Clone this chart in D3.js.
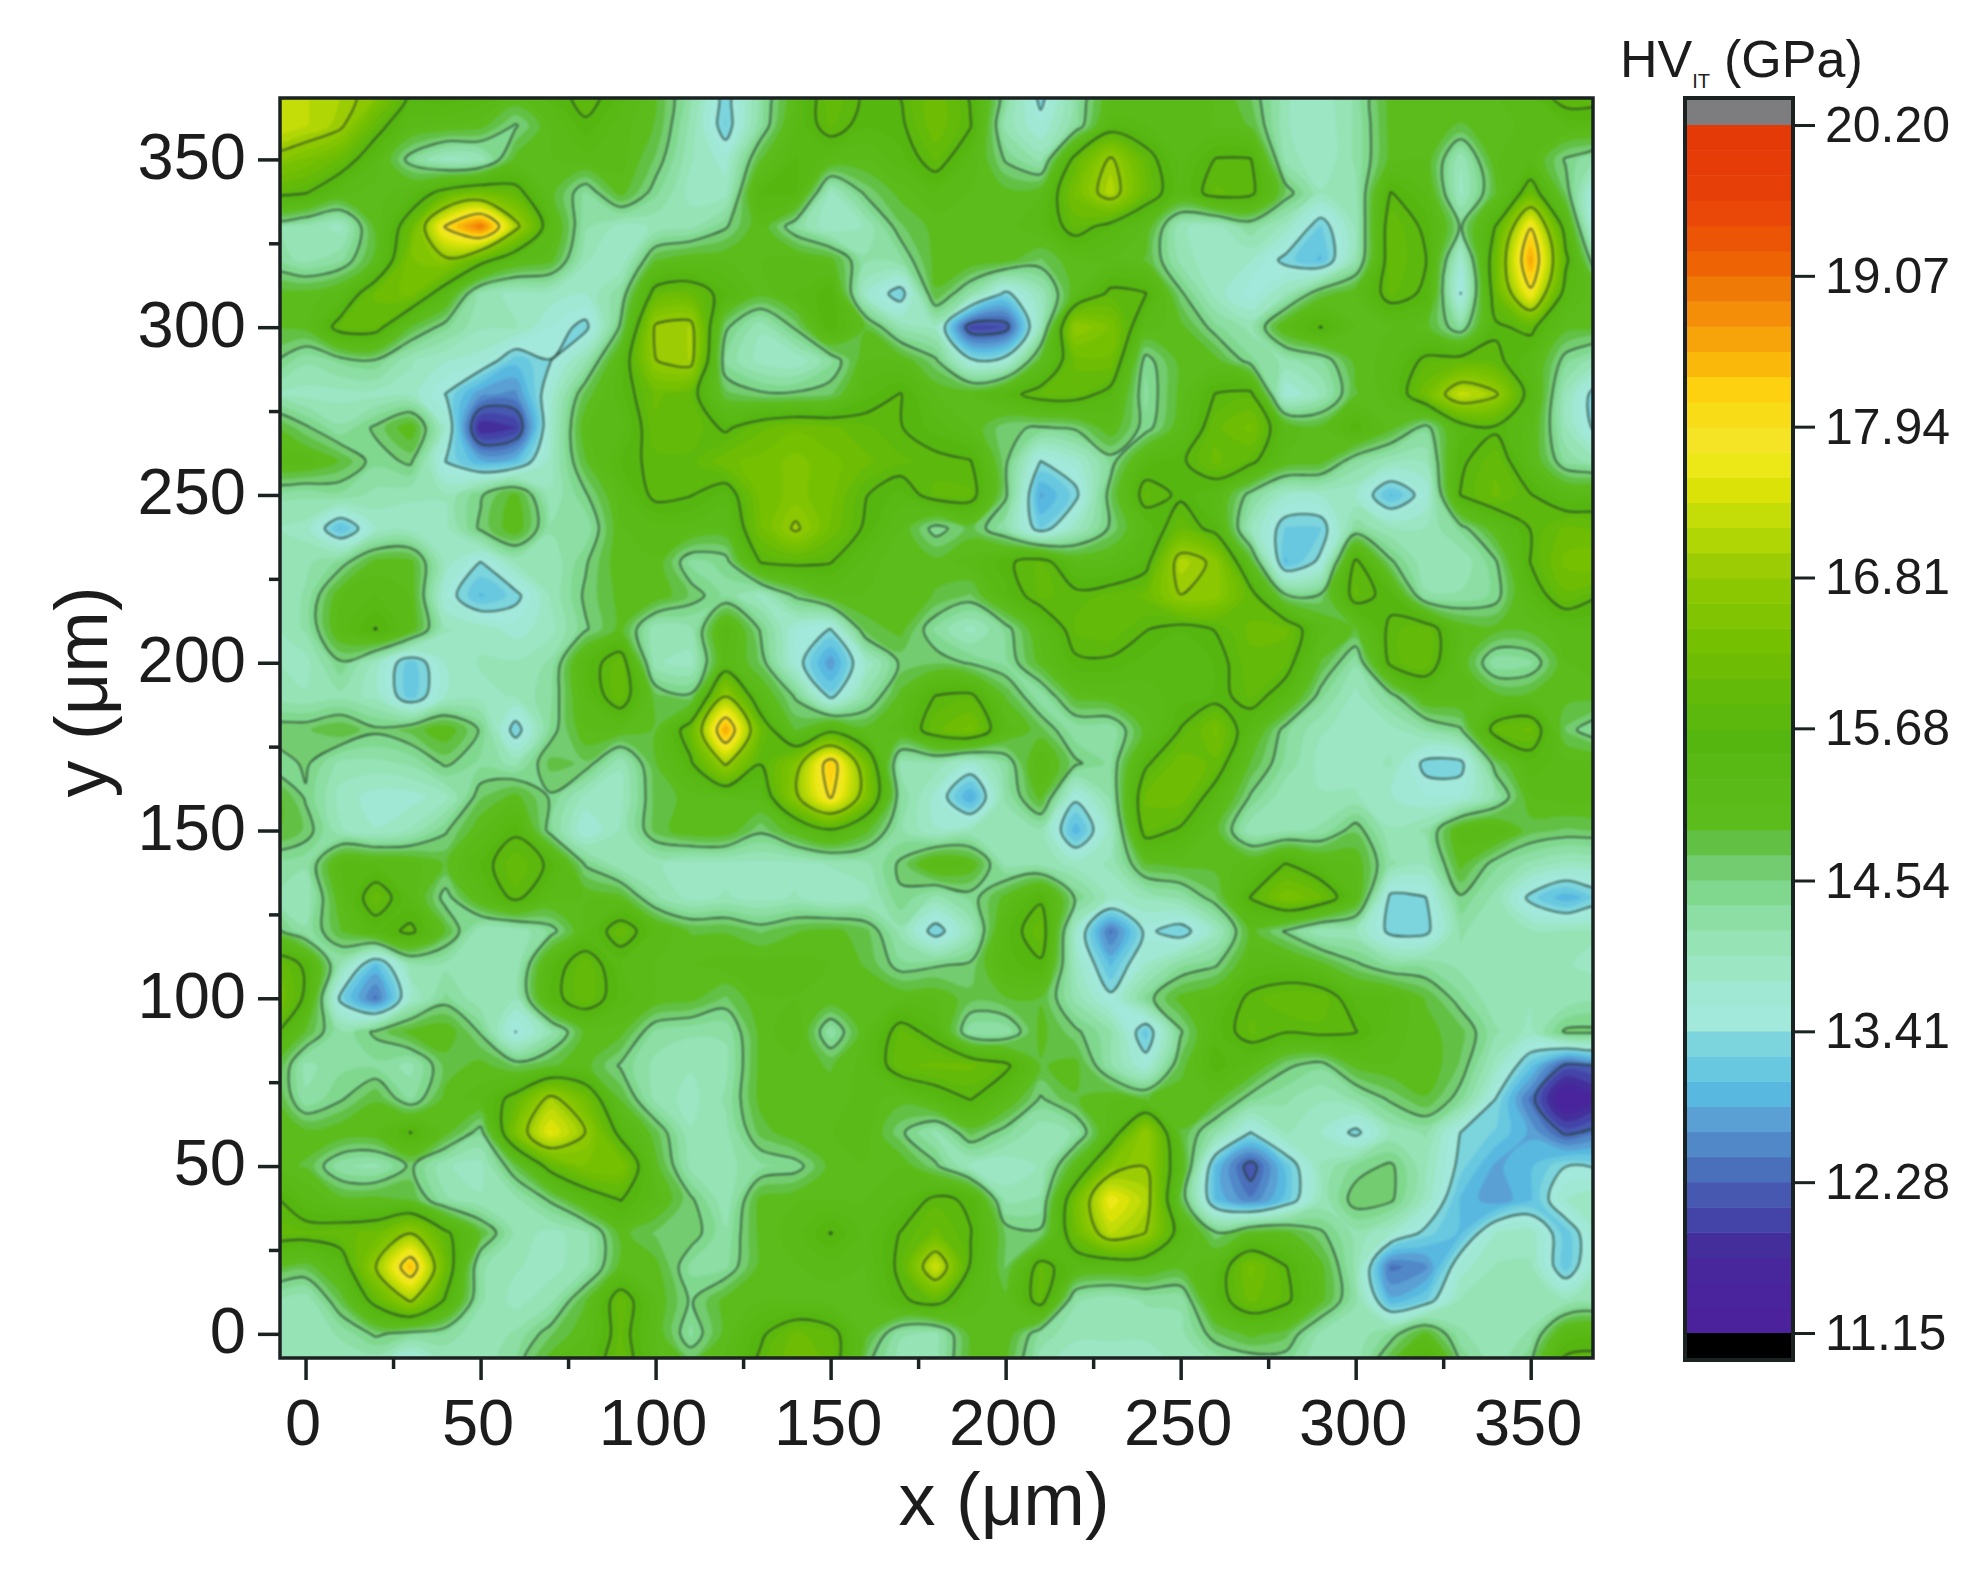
<!DOCTYPE html>
<html>
<head>
<meta charset="utf-8">
<script src="https://cdn.jsdelivr.net/npm/d3@7"></script>
<style>
  html, body { margin: 0; background: #fff; }
  text { font-family: "Liberation Sans", Arial, sans-serif; fill: #1c1c1c; }
</style>
</head>
<body>
<div id="chart"></div>
<script>
// grid positions in um, rows run from top (370) to bottom (-10)
const xValues = [-10,0,10,20,30,40,50,60,70,80,90,100,110,120,130,140,150,160,170,180,190,200,210,220,230,240,250,260,270,280,290,300,310,320,330,340,350,360,370]
const yValues = [370,360,350,340,330,320,310,300,290,280,270,260,250,240,230,220,210,200,190,180,170,160,150,140,130,120,110,100,90,80,70,60,50,40,30,20,10,0,-10]

// hardness, GPa
const hvRows = [
  [17.3,17.2,17.0,16.6,15.6,15.7,15.5,15.2,15.4,15.9,15.4,14.9,14.2,13.2,14.2,15.1,16.0,15.6,15.7,16.2,15.6,14.3,13.2,14.2,15.1,15.2,15.2,15.1,14.7,14.0,13.8,14.2,15.0,15.0,15.1,15.1,15.3,16.0,15.9],
  [17.4,17.2,16.9,15.9,15.2,15.1,15.0,14.5,15.1,15.6,15.2,14.9,14.1,13.2,14.3,15.3,15.9,15.5,15.6,16.2,15.7,14.1,13.6,14.3,15.4,15.3,15.2,15.1,14.9,14.0,13.8,14.2,15.0,15.0,14.9,15.0,15.2,15.3,15.3],
  [16.6,16.4,16.0,15.3,14.4,13.9,14.0,15.0,15.1,15.2,15.2,14.7,14.0,13.7,14.9,15.5,15.2,15.1,15.4,15.9,15.3,14.5,14.1,15.9,16.9,15.9,15.2,15.7,15.7,14.1,13.8,14.2,15.0,15.1,14.0,15.1,15.2,14.5,14.1],
  [15.8,15.7,15.2,15.0,15.3,15.9,16.2,15.9,15.0,14.3,15.0,14.4,13.9,13.9,15.5,15.5,13.9,14.6,15.0,15.3,15.1,15.0,15.1,16.3,17.1,16.0,15.3,15.9,15.8,14.7,14.0,14.1,15.7,15.3,13.9,14.9,16.0,14.7,13.2],
  [14.2,14.1,13.9,15.0,16.0,18.0,19.0,17.0,15.3,14.2,13.9,14.0,14.1,14.5,15.1,14.3,13.8,14.0,14.7,15.0,15.0,15.0,15.3,15.9,15.5,15.1,14.0,13.9,14.3,13.9,13.2,14.0,16.0,15.6,14.5,15.7,17.9,15.4,13.1],
  [14.3,14.1,14.3,15.0,16.4,16.7,15.9,15.2,15.0,14.0,13.8,14.9,15.1,15.1,15.1,15.2,15.0,14.2,14.3,15.0,15.1,15.0,14.7,15.1,15.1,14.9,14.1,13.8,13.8,13.3,13.0,14.1,16.0,15.7,13.7,16.1,18.6,15.8,14.0],
  [15.0,15.0,15.2,16.1,16.3,15.3,14.1,13.9,13.9,13.8,14.3,15.9,16.0,15.5,15.0,15.3,15.6,13.8,13.2,14.9,14.2,13.3,14.0,15.1,15.8,15.7,14.6,13.9,13.5,14.0,14.8,15.1,15.9,15.6,13.4,16.0,17.8,15.4,14.9],
  [14.9,15.0,15.9,15.9,14.9,14.4,14.0,14.0,13.6,13.3,14.6,16.9,17.0,14.6,14.0,14.6,15.6,14.9,14.1,13.9,12.0,12.1,14.0,16.8,16.4,15.2,15.0,14.4,14.1,15.2,15.7,15.1,15.1,15.0,14.3,15.6,15.8,15.0,14.9],
  [14.6,14.2,14.4,14.5,14.0,13.8,13.7,13.1,13.4,14.1,15.3,16.8,17.0,14.3,13.9,13.8,14.3,15.1,15.1,14.6,13.5,13.6,15.0,16.1,16.2,14.4,15.0,15.0,14.4,14.1,14.3,15.0,15.2,15.8,15.9,15.8,15.3,14.4,14.0],
  [14.0,13.9,13.9,13.9,13.9,13.4,12.7,12.6,13.7,14.8,15.4,16.1,15.9,14.8,14.6,14.6,14.7,15.4,15.7,15.1,15.1,15.5,15.9,15.9,15.5,14.3,15.0,15.7,15.8,13.6,14.0,14.9,15.2,16.2,17.3,16.9,15.4,14.0,13.1],
  [15.0,14.6,14.2,14.6,15.1,13.8,11.7,11.9,13.8,15.1,15.2,16.0,16.0,15.6,16.0,16.2,16.1,15.9,15.7,15.4,15.1,14.6,14.5,14.6,15.1,14.4,15.1,16.0,16.3,15.2,15.0,15.6,15.0,14.4,15.4,15.6,15.2,14.0,13.2],
  [15.2,15.2,14.9,14.4,14.6,13.4,12.9,13.0,13.9,14.9,15.5,15.8,15.8,16.2,16.3,16.5,16.3,16.1,15.9,15.8,15.7,14.6,13.4,13.7,14.4,15.4,15.6,16.1,15.8,15.1,15.0,14.3,14.0,14.0,15.6,16.0,15.2,14.3,14.0],
  [14.2,14.2,14.3,14.1,14.0,14.0,14.5,15.0,14.0,14.5,15.2,15.8,15.7,15.4,16.3,16.5,16.3,15.7,15.4,15.9,15.9,14.6,12.8,13.3,14.7,15.9,15.6,15.3,14.4,13.8,13.8,13.8,13.0,13.6,15.7,16.1,15.7,15.3,15.3],
  [14.0,13.9,13.0,13.8,13.9,13.9,14.6,15.1,14.2,14.2,15.1,15.2,15.2,15.1,16.2,16.9,16.2,15.6,15.1,14.4,14.8,14.2,13.2,13.9,14.6,15.3,16.0,15.5,14.0,13.2,13.2,14.3,14.0,14.0,14.4,15.1,15.7,16.1,16.0],
  [14.0,14.1,14.4,15.0,15.0,13.9,13.4,14.0,14.0,14.5,15.1,15.1,14.3,14.4,15.7,15.8,15.7,15.2,15.0,15.0,15.2,15.6,15.9,15.2,15.2,15.5,17.1,16.7,15.0,13.0,13.5,15.8,14.6,14.0,14.0,14.5,15.7,16.3,16.4],
  [13.9,14.2,15.1,15.3,15.1,13.6,13.0,13.3,14.0,14.6,15.0,15.1,14.7,14.3,13.9,14.6,15.1,15.1,15.1,14.9,14.7,15.4,15.9,15.8,15.9,16.1,16.8,16.7,15.9,14.6,14.6,15.9,15.5,14.2,14.2,14.4,15.4,16.0,15.7],
  [13.9,14.2,15.2,15.7,15.1,14.0,13.9,13.7,13.9,14.5,15.0,14.0,14.1,15.4,14.5,13.6,13.4,14.8,15.0,14.3,13.9,14.4,15.2,15.9,16.0,15.7,15.5,15.7,16.1,16.1,15.2,14.9,15.8,16.0,15.1,15.0,15.0,15.2,15.2],
  [14.0,13.9,14.5,13.9,13.1,13.8,14.0,14.0,14.2,15.4,16.0,14.0,13.9,15.3,14.7,13.6,12.7,13.8,14.6,14.7,14.5,14.3,15.0,15.6,15.6,15.4,15.3,15.5,16.0,15.9,14.9,14.2,15.8,16.0,15.1,14.2,14.3,15.1,15.2],
  [14.0,14.0,14.1,13.9,13.1,13.8,13.9,14.0,14.3,15.3,16.0,14.8,14.6,16.8,15.2,14.5,13.3,14.2,15.0,15.7,15.8,14.9,14.2,15.0,15.1,15.2,15.4,15.5,15.9,15.4,14.4,13.9,14.4,15.2,15.2,15.0,15.0,15.0,15.0],
  [14.7,14.7,14.9,14.6,14.8,15.1,14.5,13.2,14.4,15.1,15.1,14.9,16.0,18.6,16.1,14.9,15.5,15.0,15.2,16.0,16.3,15.2,14.8,14.2,14.2,15.0,15.7,16.3,15.3,14.4,14.0,13.9,13.9,14.2,14.5,15.9,16.1,14.7,14.2],
  [14.3,14.6,14.1,14.1,14.2,14.6,14.3,14.1,14.8,14.7,14.0,14.9,15.6,16.9,15.7,16.5,18.3,16.3,14.1,14.1,13.7,14.3,15.3,14.6,14.3,15.6,16.2,16.0,14.9,14.3,13.9,13.9,14.0,13.3,13.3,14.7,15.4,15.2,15.2],
  [15.1,14.5,13.9,13.7,13.7,13.9,14.7,15.0,14.5,13.9,13.9,14.8,15.0,15.1,15.2,16.7,18.0,16.5,14.3,13.7,12.8,14.2,15.0,13.5,14.2,16.1,16.2,15.4,14.5,14.0,14.0,14.0,13.8,13.6,13.6,14.2,15.1,15.2,15.2],
  [15.0,14.7,14.0,13.8,14.0,14.5,15.1,15.6,14.4,13.6,14.0,14.8,15.1,15.1,14.6,15.1,15.6,15.0,14.2,13.8,14.0,14.0,14.1,12.9,13.9,15.9,15.6,15.0,14.0,14.1,14.2,14.7,14.0,14.2,15.2,15.3,14.8,14.7,14.7],
  [14.2,14.2,15.3,15.3,15.2,14.9,15.5,16.0,15.6,14.5,14.0,14.0,13.9,13.9,13.9,13.9,14.0,14.1,14.6,15.3,15.1,14.1,14.1,13.9,14.0,14.9,15.0,15.0,15.2,15.7,15.3,15.1,14.2,14.0,15.0,14.4,14.1,13.9,13.9],
  [14.2,14.0,15.1,16.0,15.3,14.4,15.2,15.8,15.2,15.1,15.0,14.2,13.9,14.0,13.9,14.0,13.8,13.9,14.5,14.1,14.4,15.0,15.6,14.5,13.9,14.0,14.2,14.7,15.7,16.4,16.1,15.2,13.3,13.4,14.5,14.1,13.3,12.9,13.2],
  [14.7,14.2,14.9,15.4,15.8,14.9,14.0,14.0,14.4,15.2,16.0,15.3,14.9,14.9,14.7,14.9,15.0,14.8,14.1,13.2,14.0,15.4,16.0,13.8,12.4,13.5,13.2,13.9,15.0,14.5,14.0,14.0,13.3,13.3,14.2,14.0,14.0,14.0,14.0],
  [16.1,15.6,14.1,13.0,14.1,14.1,14.1,14.0,15.4,16.0,15.3,15.1,15.1,15.2,15.2,15.2,15.1,14.9,14.4,14.5,14.6,15.4,15.6,13.9,13.0,13.8,14.3,14.5,15.2,15.3,15.0,14.6,14.3,14.3,14.1,14.0,14.0,14.0,13.9],
  [16.4,15.6,13.3,12.4,13.8,14.4,14.0,14.0,15.5,16.0,15.4,15.1,15.0,14.7,15.1,15.1,15.1,15.1,15.1,15.1,14.8,14.9,14.9,14.1,13.5,14.4,15.0,15.2,15.8,16.0,16.0,15.4,15.3,14.9,14.4,14.0,14.0,14.0,14.1],
  [15.9,14.9,14.2,14.6,15.0,15.1,14.5,13.4,14.1,15.0,15.0,14.3,14.2,14.2,15.0,15.3,14.2,15.1,15.9,15.5,14.2,14.2,15.0,14.6,14.2,13.1,14.5,15.4,15.9,15.7,15.8,15.7,15.2,15.0,14.8,14.2,13.9,14.6,14.6],
  [15.1,14.1,14.3,14.3,14.1,14.8,15.0,14.7,14.9,15.0,14.5,14.1,14.0,14.1,15.0,15.0,14.9,15.2,16.0,16.1,16.1,15.8,14.9,15.0,14.2,13.6,14.8,15.6,15.2,14.6,14.4,15.0,15.1,15.1,14.7,13.9,13.1,12.2,12.3],
  [15.1,14.2,14.5,14.9,14.3,15.0,15.2,15.9,17.0,16.2,14.9,14.1,13.9,14.2,15.0,15.1,15.0,15.2,15.0,15.4,15.7,15.2,14.5,14.9,15.1,14.9,15.1,15.0,14.4,14.2,14.0,14.2,14.6,14.9,14.4,13.4,12.4,11.3,11.6],
  [15.0,15.0,15.1,15.1,15.7,15.0,14.4,16.4,17.6,16.8,15.5,14.8,14.0,14.1,14.8,15.1,15.1,15.2,14.6,14.1,14.8,14.4,14.0,14.2,15.3,16.8,14.9,14.2,13.4,14.0,13.8,13.3,14.0,14.2,13.4,13.2,12.8,12.2,12.4],
  [15.0,14.9,14.2,14.1,14.6,14.0,13.9,14.8,15.9,16.4,16.4,15.0,14.1,14.1,14.3,14.4,15.0,15.1,15.1,14.6,13.9,13.8,14.0,15.1,16.5,16.8,15.2,13.0,12.1,13.1,14.0,14.4,14.6,14.0,13.3,12.8,13.0,13.4,13.3],
  [15.8,15.3,15.0,15.0,14.9,14.2,14.0,14.1,14.6,15.3,15.7,15.2,14.6,14.0,15.0,15.1,15.1,15.1,15.3,15.8,15.6,14.1,14.2,16.2,17.7,17.1,14.8,13.0,12.5,13.1,14.0,14.7,14.6,13.9,13.0,12.7,13.0,13.8,14.0],
  [15.9,15.9,16.0,16.1,16.8,15.8,14.9,14.1,13.9,14.1,15.0,14.7,14.7,14.2,15.0,15.2,15.7,15.2,15.7,16.1,15.7,14.7,14.6,16.1,17.2,16.8,15.4,14.6,15.0,15.0,14.6,14.1,13.8,13.3,13.0,13.8,13.9,13.1,13.9],
  [14.9,14.8,15.3,16.8,18.4,16.1,14.2,14.0,13.9,14.1,15.0,15.0,14.3,14.3,15.0,15.1,15.2,15.1,15.8,17.4,15.6,14.7,15.9,15.3,15.2,15.2,15.0,15.3,16.3,15.7,15.0,14.1,12.4,12.6,13.7,14.0,14.0,13.1,14.0],
  [14.1,14.0,14.8,15.9,16.9,15.6,14.2,13.9,14.1,14.9,16.0,15.1,14.5,15.0,15.1,15.1,15.0,15.0,15.6,15.9,15.2,15.0,15.9,14.2,14.0,14.2,14.2,15.4,16.1,15.8,15.0,14.2,12.9,13.2,14.0,14.1,14.0,14.0,14.0],
  [14.0,14.0,14.2,14.6,14.4,14.3,14.0,14.2,14.7,15.1,15.9,15.1,14.3,15.0,15.6,16.1,15.9,15.0,14.2,14.1,15.0,15.1,14.3,14.0,14.0,14.0,14.1,14.7,15.0,14.8,14.1,14.0,14.4,15.0,14.2,14.0,14.2,15.3,15.4],
  [14.0,14.0,14.0,13.9,13.2,13.9,14.0,14.4,15.1,15.3,16.0,15.1,14.9,15.1,15.8,16.2,16.0,14.6,14.0,14.0,15.0,14.9,14.0,13.9,13.9,13.9,14.0,14.1,14.2,14.3,14.0,14.0,15.0,15.8,14.6,14.0,14.6,15.9,15.9],
]

// colour bar, low to high, one colour per band
const bandColors = [
  "#4c229c","#4a249c","#48269c","#442e9c","#4444a8","#4658b0",
  "#4a70bc","#5088c8","#5aa0d4","#58b8e0","#68c8e0","#7cd4dc",
  "#a2e9dc","#a0e8d4","#9ce6c4","#96e3b6","#8cdea4","#80d88e",
  "#74cc70","#62c044","#5cbc1c","#5aba18","#58b814","#55b610",
  "#5cb80c","#64ba08","#6ebd04","#76c002","#80c402","#8cc802",
  "#9ccc04","#b0d606","#c4dc08","#dbe208","#ece818","#f5e426",
  "#f9dc18","#fdd010","#fab80a","#f7a40a","#f48e08","#f07a06",
  "#ee6404","#ec5406","#e94808","#e64008","#e63c08","#e43a08",
]
const barTicks = [11.15,12.28,13.41,14.54,15.68,16.81,17.94,19.07,20.20]
const lineLevels = [12.28,13.41,14.54,15.68,16.81,17.94,19.07]
const majorTicks = [0,50,100,150,200,250,300,350]
const minorTicks = [25,75,125,175,225,275,325]

const width = 1984
const height = 1573
const plot = { left: 280, right: 1593, top: 98, bottom: 1358 }
const bar = { left: 1685, right: 1793, top: 98, bottom: 1360, low: 1333, high: 125 }
const ink = "#1a2222"

if (hvRows.some(r => r.length !== xValues.length) || hvRows.length !== yValues.length) {
  throw new Error("grid size mismatch")
}

const svg = d3.select("#chart").append("svg")
  .attr("width", width)
  .attr("height", height)
  .attr("viewBox", `0 0 ${width} ${height}`)
  .style("display", "block")

const x = d3.scaleLinear().domain([-7.3, 367.8]).range([plot.left, plot.right])
const y = d3.scaleLinear().domain([-7.2, 368.3]).range([plot.bottom, plot.top])
const barScale = d3.scaleLinear().domain([11.15, 20.20]).range([bar.low, bar.high])
const bandStep = (20.20 - 11.15) / bandColors.length

function drawMap() {
  svg.append("clipPath").attr("id", "plot-clip")
    .append("rect")
    .attr("x", plot.left).attr("y", plot.top)
    .attr("width", plot.right - plot.left).attr("height", plot.bottom - plot.top)

  const values = hvRows.flat()
  const stepX = xValues[1] - xValues[0]
  const stepY = yValues[1] - yValues[0]
  // d3.contours puts value i at i + 0.5, map that back to um
  const toPixel = ([cx, cy]) => [
    x(xValues[0] + (cx - 0.5) * stepX),
    y(yValues[0] + (cy - 0.5) * stepY),
  ]
  const ring = d3.line().curve(d3.curveCatmullRomClosed.alpha(0.5))
  const path = d => d.coordinates
    .map(polygon => polygon.map(r => ring(r.slice(0, -1).map(toPixel))).join(""))
    .join("")
  const contours = d3.contours().size([xValues.length, yValues.length])

  const g = svg.append("g").attr("clip-path", "url(#plot-clip)")
    .append("g").style("filter", "blur(0.9px)")

  g.append("rect")
    .attr("x", plot.left - 5).attr("y", plot.top - 5)
    .attr("width", plot.right - plot.left + 10).attr("height", plot.bottom - plot.top + 10)
    .attr("fill", bandColors[0])

  const edges = bandColors.map((c, i) => 11.15 + i * bandStep)
  g.append("g").selectAll("path")
    .data(contours.thresholds(edges)(values))
    .join("path")
    .attr("d", path)
    .attr("fill", (d, i) => bandColors[i])
    .attr("stroke", (d, i) => bandColors[i])
    .attr("stroke-width", 0.5)

  g.append("g").selectAll("path")
    .data(contours.thresholds(lineLevels)(values))
    .join("path")
    .attr("d", path)
    .attr("fill", "none")
    .attr("stroke", "#22382c")
    .attr("stroke-opacity", 0.85)
    .attr("stroke-width", 1.6)
    .attr("stroke-linejoin", "round")
}

function styleAxis(g, size) {
  g.select(".domain").remove()
  g.selectAll("line").attr("stroke", ink).attr("stroke-width", 3.5)
  g.selectAll("text").attr("font-size", size).attr("fill", "#1c1c1c")
}

function drawAxes() {
  svg.append("g").attr("transform", `translate(0,${plot.bottom})`)
    .call(d3.axisBottom(x).tickValues(majorTicks).tickSize(22))
    .call(g => styleAxis(g, 65))
    .call(g => g.selectAll("text").attr("y", 41).attr("dx", -3))
  svg.append("g").attr("transform", `translate(0,${plot.bottom})`)
    .call(d3.axisBottom(x).tickValues(minorTicks).tickSize(11).tickFormat(""))
    .call(g => styleAxis(g, 65))

  svg.append("g").attr("transform", `translate(${plot.left},0)`)
    .call(d3.axisLeft(y).tickValues(majorTicks).tickSize(22).tickPadding(12))
    .call(g => styleAxis(g, 65))
    .call(g => g.selectAll("text").attr("dy", "0.29em"))
  svg.append("g").attr("transform", `translate(${plot.left},0)`)
    .call(d3.axisLeft(y).tickValues(minorTicks).tickSize(11).tickFormat(""))
    .call(g => styleAxis(g, 65))

  svg.append("rect")
    .attr("x", plot.left).attr("y", plot.top)
    .attr("width", plot.right - plot.left).attr("height", plot.bottom - plot.top)
    .attr("fill", "none").attr("stroke", ink).attr("stroke-width", 3.5)

  svg.append("text")
    .attr("x", 1004).attr("y", 1525)
    .attr("text-anchor", "middle").attr("font-size", 74)
    .text("x (μm)")
  svg.append("text")
    .attr("transform", "translate(107,692) rotate(-90)")
    .attr("text-anchor", "middle").attr("font-size", 74)
    .text("y (μm)")
}

function drawColorbar() {
  const barWidth = bar.right - bar.left
  svg.append("g").selectAll("rect")
    .data(bandColors)
    .join("rect")
    .attr("x", bar.left)
    .attr("width", barWidth)
    .attr("y", (d, i) => barScale(11.15 + (i + 1) * bandStep))
    .attr("height", barScale(11.15) - barScale(11.15 + bandStep) + 0.5)
    .attr("fill", d => d)

  svg.append("rect")
    .attr("x", bar.left).attr("width", barWidth)
    .attr("y", bar.top).attr("height", bar.high - bar.top)
    .attr("fill", "#7d7d80")
  svg.append("rect")
    .attr("x", bar.left).attr("width", barWidth)
    .attr("y", bar.low).attr("height", bar.bottom - bar.low)
    .attr("fill", "#000")
  svg.append("rect")
    .attr("x", bar.left).attr("y", bar.top)
    .attr("width", barWidth).attr("height", bar.bottom - bar.top)
    .attr("fill", "none").attr("stroke", ink).attr("stroke-width", 4)

  svg.append("g").attr("transform", `translate(${bar.right},0)`)
    .call(d3.axisRight(barScale).tickValues(barTicks).tickSize(22).tickPadding(10).tickFormat(d3.format(".2f")))
    .call(g => styleAxis(g, 50))
    .call(g => g.selectAll("line").attr("stroke-width", 3))
    .call(g => g.selectAll("text").attr("dy", "0.33em"))

  const title = svg.append("text").attr("x", 1620).attr("y", 77).attr("font-size", 52)
  title.append("tspan").text("HV")
  title.append("tspan").attr("font-size", 20).attr("dy", 11).text("IT")
  title.append("tspan").attr("dy", -11).attr("dx", 14).text("(GPa)")
}

drawMap()
drawAxes()
drawColorbar()
</script>
</body>
</html>
